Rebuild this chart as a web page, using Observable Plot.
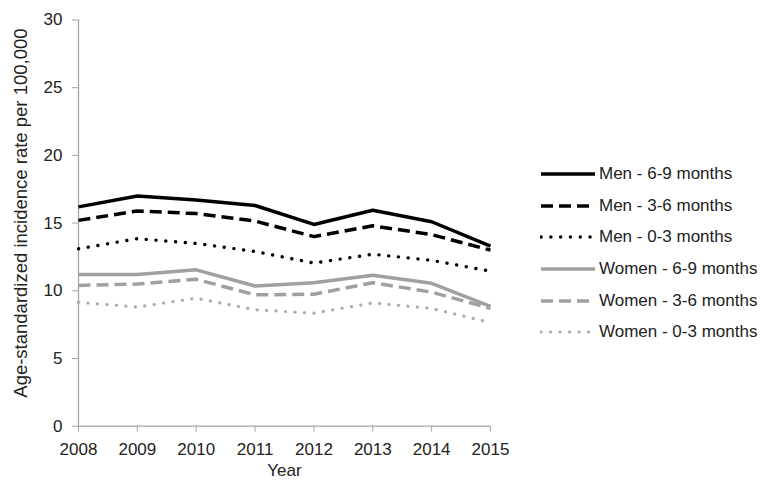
<!DOCTYPE html>
<html>
<head>
<meta charset="utf-8">
<script src="https://cdn.jsdelivr.net/npm/d3@7"></script>
<script src="https://cdn.jsdelivr.net/npm/@observablehq/plot@0.6"></script>
<style>
  html, body { margin: 0; padding: 0; background: #fff; }
  #wrap { position: relative; width: 769px; height: 481px; font-family: "Liberation Sans", Arial, sans-serif; color: #222; }
  #legend { position: absolute; left: 540px; top: 158px; }
  .row { display: flex; align-items: center; height: 31.7px; font-size: 17px; white-space: nowrap; }
  .row svg { margin-right: 3px; flex: none; }
</style>
</head>
<body>
<div id="wrap"></div>
<script>
const years = [2008, 2009, 2010, 2011, 2012, 2013, 2014, 2015];
const seriesNames = [
  "Men - 6-9 months",
  "Men - 3-6 months",
  "Men - 0-3 months",
  "Women - 6-9 months",
  "Women - 3-6 months",
  "Women - 0-3 months"
];
const men69   = [16.2, 17.0, 16.7, 16.3, 14.9, 15.95, 15.1, 13.3];
const men36   = [15.2, 15.9, 15.7, 15.15, 14.0, 14.8, 14.15, 13.0];
const men03   = [13.1, 13.85, 13.5, 12.9, 12.05, 12.7, 12.25, 11.45];
const women69 = [11.2, 11.2, 11.55, 10.35, 10.6, 11.15, 10.55, 8.85];
const women36 = [10.4, 10.5, 10.85, 9.7, 9.75, 10.6, 9.9, 8.7];
const women03 = [9.15, 8.8, 9.45, 8.6, 8.35, 9.1, 8.7, 7.65];
const yTicks = [0, 5, 10, 15, 20, 25, 30];
const yLabel = "Age-standardized incidence rate per 100,000";
const xLabel = "Year";

const seriesValues = [men69, men36, men03, women69, women36, women03];
const styles = [
  {stroke: "#000", strokeWidth: 3.5, strokeDasharray: null, strokeLinecap: "butt"},
  {stroke: "#000", strokeWidth: 3.5, strokeDasharray: "12,6", strokeLinecap: "butt"},
  {stroke: "#000", strokeWidth: 3.4, strokeDasharray: "0.1,9.7", strokeLinecap: "round"},
  {stroke: "#a0a0a0", strokeWidth: 3.5, strokeDasharray: null, strokeLinecap: "butt"},
  {stroke: "#a0a0a0", strokeWidth: 3.5, strokeDasharray: "12,6", strokeLinecap: "butt"},
  {stroke: "#ababab", strokeWidth: 3.2, strokeDasharray: "0.1,9.4", strokeLinecap: "round"}
];

const data = seriesNames.flatMap((name, i) =>
  years.map((year, j) => ({series: name, year, value: seriesValues[i][j]}))
);

const axisColor = "#a6a6a6";

const chart = Plot.plot({
  width: 769,
  height: 481,
  marginLeft: 78,
  marginRight: 279,
  marginTop: 19.5,
  marginBottom: 55.3,
  style: {fontFamily: "'Liberation Sans', Arial, sans-serif", fontSize: "17px", color: "#222", background: "transparent"},
  x: {domain: [2008, 2015]},
  y: {domain: [0, 30]},
  marks: [
    Plot.axisX({ticks: years, tickSize: 6, tickPadding: 11, tickFormat: "d", stroke: axisColor, fill: "#222",
      label: xLabel, labelAnchor: "center", labelOffset: 50, labelArrow: false}),
    Plot.axisY({ticks: yTicks, tickSize: 6, tickPadding: 10, stroke: axisColor, fill: "#222", label: null}),
    Plot.text([yLabel], {frameAnchor: "left", rotate: -90, dx: -57, dy: -10, fontSize: 18.5,
      fill: "#222", textAnchor: "middle", lineAnchor: "middle"}),
    Plot.ruleX([2008], {stroke: axisColor, strokeWidth: 1.3}),
    Plot.ruleY([0], {stroke: axisColor, strokeWidth: 1.3}),
    ...seriesNames.map((name, i) => Plot.line(data.filter(d => d.series === name), {
      x: "year", y: "value",
      stroke: styles[i].stroke,
      strokeWidth: styles[i].strokeWidth,
      strokeDasharray: styles[i].strokeDasharray,
      strokeLinecap: styles[i].strokeLinecap,
      strokeLinejoin: "round"
    }))
  ]
});

const wrap = document.getElementById("wrap");
wrap.appendChild(chart);

// legend
const legend = document.createElement("div");
legend.id = "legend";
seriesNames.forEach((name, i) => {
  const row = document.createElement("div");
  row.className = "row";
  const s = styles[i];
  const svg = d3.create("svg").attr("width", 56).attr("height", 10);
  svg.append("line")
    .attr("x1", 1).attr("x2", 55).attr("y1", 5).attr("y2", 5)
    .attr("stroke", s.stroke)
    .attr("stroke-width", s.strokeWidth)
    .attr("stroke-dasharray", s.strokeDasharray)
    .attr("stroke-linecap", s.strokeLinecap);
  row.appendChild(svg.node());
  const span = document.createElement("span");
  span.textContent = name;
  row.appendChild(span);
  legend.appendChild(row);
});
wrap.appendChild(legend);
</script>
</body>
</html>
